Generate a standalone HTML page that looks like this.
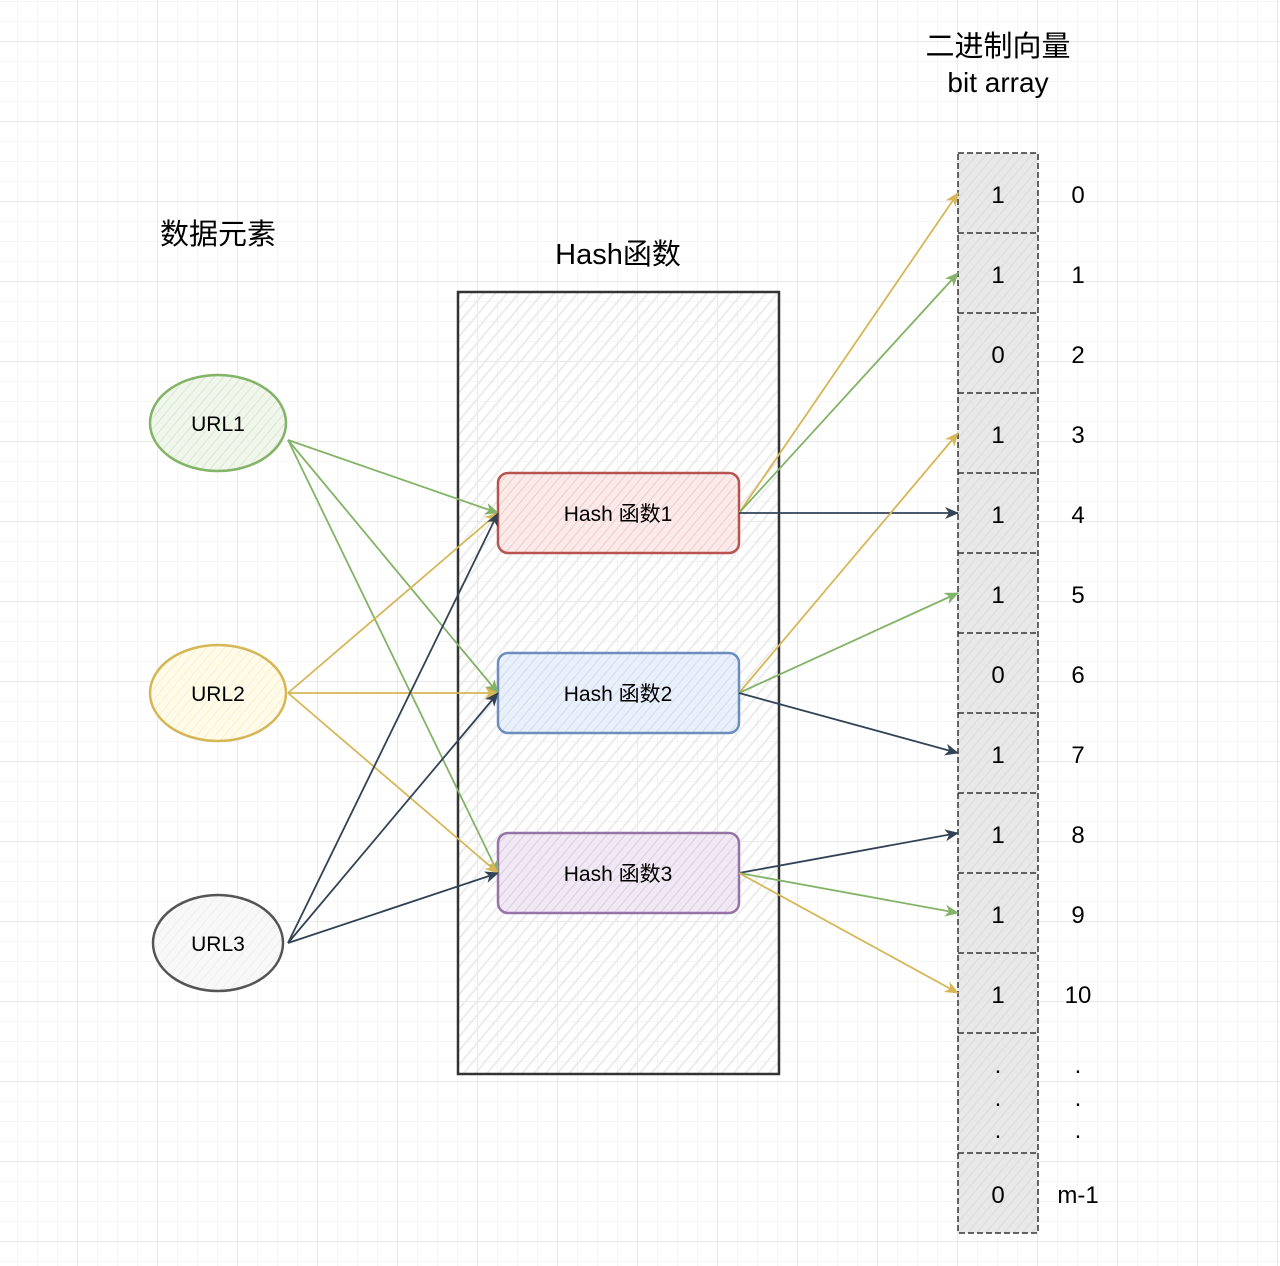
<!DOCTYPE html>
<html><head><meta charset="utf-8"><style>
html,body{margin:0;padding:0;background:#fff}
svg{display:block}
text{font-family:"Liberation Sans","Noto Sans CJK SC",sans-serif;fill:#000}
</style></head><body>
<svg width="1280" height="1266" viewBox="0 0 1280 1266" xmlns="http://www.w3.org/2000/svg">
<defs>
<pattern id="g" width="20" height="20" patternUnits="userSpaceOnUse" x="-2" y="2">
<path d="M20 0V20M0 20H20" stroke="#ececec" stroke-width="1" fill="none"/>
</pattern>
<pattern id="G" width="80" height="80" patternUnits="userSpaceOnUse" x="-2" y="42">
<path d="M80 0V80M0 80H80" stroke="#d4d4d4" stroke-width="1" fill="none"/>
</pattern>
<pattern id="h" width="9" height="9" patternUnits="userSpaceOnUse" patternTransform="rotate(40)">
<rect width="9" height="9" fill="none"/><line x1="0" y1="0" x2="0" y2="9" stroke="#ececec" stroke-width="4"/>
</pattern>
<pattern id="hg" width="7" height="7" patternUnits="userSpaceOnUse" patternTransform="rotate(40)">
<rect width="7" height="7" fill="#e8e8e8"/><line x1="0" y1="0" x2="0" y2="7" stroke="#dedede" stroke-width="3"/>
</pattern>
<pattern id="hr" width="7" height="7" patternUnits="userSpaceOnUse" patternTransform="rotate(40)"><rect width="7" height="7" fill="#fbeaea"/><line x1="0" y1="0" x2="0" y2="7" stroke="#f3c9c7" stroke-width="2"/></pattern>
<pattern id="hb" width="7" height="7" patternUnits="userSpaceOnUse" patternTransform="rotate(40)"><rect width="7" height="7" fill="#eaf0fa"/><line x1="0" y1="0" x2="0" y2="7" stroke="#cddcf2" stroke-width="2"/></pattern>
<pattern id="hp" width="7" height="7" patternUnits="userSpaceOnUse" patternTransform="rotate(40)"><rect width="7" height="7" fill="#f0e8f3"/><line x1="0" y1="0" x2="0" y2="7" stroke="#dccbe4" stroke-width="2"/></pattern>
<pattern id="hgr" width="7" height="7" patternUnits="userSpaceOnUse" patternTransform="rotate(40)"><rect width="7" height="7" fill="#f0f6ec"/><line x1="0" y1="0" x2="0" y2="7" stroke="#d7e8cd" stroke-width="2"/></pattern>
<pattern id="hy" width="7" height="7" patternUnits="userSpaceOnUse" patternTransform="rotate(40)"><rect width="7" height="7" fill="#fffbea"/><line x1="0" y1="0" x2="0" y2="7" stroke="#fbefc4" stroke-width="2"/></pattern>
<pattern id="hw" width="7" height="7" patternUnits="userSpaceOnUse" patternTransform="rotate(40)"><rect width="7" height="7" fill="#f8f8f8"/><line x1="0" y1="0" x2="0" y2="7" stroke="#eeeeee" stroke-width="2"/></pattern>
<marker id="ag" markerWidth="14" markerHeight="12" refX="13" refY="6" orient="auto" markerUnits="userSpaceOnUse"><path d="M0 0L14 6L0 12L4 6Z" fill="#82b366"/></marker>
<marker id="ay" markerWidth="14" markerHeight="12" refX="13" refY="6" orient="auto" markerUnits="userSpaceOnUse"><path d="M0 0L14 6L0 12L4 6Z" fill="#d6b656"/></marker>
<marker id="ad" markerWidth="14" markerHeight="12" refX="13" refY="6" orient="auto" markerUnits="userSpaceOnUse"><path d="M0 0L14 6L0 12L4 6Z" fill="#314354"/></marker>
</defs>
<rect width="1280" height="1266" fill="url(#g)"/>
<rect width="1280" height="1266" fill="url(#G)"/>

<rect x="458" y="292" width="321" height="782" fill="url(#h)" stroke="#333" stroke-width="2.5"/>

<g stroke="#333" stroke-width="1.5" stroke-dasharray="6 3">
<rect x="958" y="153" width="80" height="1080" fill="url(#hg)"/>
<path d="M958 233H1038M958 313H1038M958 393H1038M958 473H1038M958 553H1038M958 633H1038M958 713H1038M958 793H1038M958 873H1038M958 953H1038M958 1033H1038M958 1153H1038" fill="none"/>
</g>
<g font-size="24" text-anchor="middle">
<text x="998" y="203">1</text><text x="1078" y="203">0</text>
<text x="998" y="283">1</text><text x="1078" y="283">1</text>
<text x="998" y="363">0</text><text x="1078" y="363">2</text>
<text x="998" y="443">1</text><text x="1078" y="443">3</text>
<text x="998" y="523">1</text><text x="1078" y="523">4</text>
<text x="998" y="603">1</text><text x="1078" y="603">5</text>
<text x="998" y="683">0</text><text x="1078" y="683">6</text>
<text x="998" y="763">1</text><text x="1078" y="763">7</text>
<text x="998" y="843">1</text><text x="1078" y="843">8</text>
<text x="998" y="923">1</text><text x="1078" y="923">9</text>
<text x="998" y="1003">1</text><text x="1078" y="1003">10</text>
<text x="998" y="1073">.</text><text x="1078" y="1073">.</text>
<text x="998" y="1106">.</text><text x="1078" y="1106">.</text>
<text x="998" y="1138">.</text><text x="1078" y="1138">.</text>
<text x="998" y="1203">0</text><text x="1078" y="1203">m-1</text>
</g>

<text x="998" y="56" font-size="29" text-anchor="middle">二进制向量</text>
<text x="998" y="92" font-size="28" text-anchor="middle">bit array</text>
<text x="218" y="244" font-size="29" text-anchor="middle">数据元素</text>
<text x="618" y="264" font-size="29" text-anchor="middle">Hash函数</text>

<ellipse cx="218" cy="423" rx="68" ry="48" fill="url(#hgr)" stroke="#82b366" stroke-width="2.5"/>
<ellipse cx="218" cy="693" rx="68" ry="48" fill="url(#hy)" stroke="#d6b656" stroke-width="2.5"/>
<ellipse cx="218" cy="943" rx="65" ry="48" fill="url(#hw)" stroke="#555" stroke-width="2.5"/>
<g font-size="21" text-anchor="middle">
<text x="218" y="431">URL1</text><text x="218" y="701">URL2</text><text x="218" y="951">URL3</text>
</g>

<rect x="498" y="473" width="241" height="80" rx="10" fill="url(#hr)" stroke="#b85450" stroke-width="2.5"/>
<rect x="498" y="653" width="241" height="80" rx="10" fill="url(#hb)" stroke="#6c8ebf" stroke-width="2.5"/>
<rect x="498" y="833" width="241" height="80" rx="10" fill="url(#hp)" stroke="#9673a6" stroke-width="2.5"/>
<g font-size="21" text-anchor="middle">
<text x="618" y="521">Hash 函数1</text><text x="618" y="701">Hash 函数2</text><text x="618" y="881">Hash 函数3</text>
</g>

<g fill="none" stroke-width="1.8">
<path d="M288 440L498 513" stroke="#82b366" marker-end="url(#ag)"/>
<path d="M288 440L498 693" stroke="#82b366" marker-end="url(#ag)"/>
<path d="M288 440L498 873" stroke="#82b366" marker-end="url(#ag)"/>
<path d="M288 693L498 513" stroke="#d6b656" marker-end="url(#ay)"/>
<path d="M288 693L498 693" stroke="#d6b656" marker-end="url(#ay)"/>
<path d="M288 693L498 873" stroke="#d6b656" marker-end="url(#ay)"/>
<path d="M288 943L498 513" stroke="#314354" marker-end="url(#ad)"/>
<path d="M288 943L498 693" stroke="#314354" marker-end="url(#ad)"/>
<path d="M288 943L498 873" stroke="#314354" marker-end="url(#ad)"/>

<path d="M739 513L958 193" stroke="#d6b656" marker-end="url(#ay)"/>
<path d="M739 513L958 273" stroke="#82b366" marker-end="url(#ag)"/>
<path d="M739 513L958 513" stroke="#314354" marker-end="url(#ad)"/>
<path d="M739 693L958 433" stroke="#d6b656" marker-end="url(#ay)"/>
<path d="M739 693L958 593" stroke="#82b366" marker-end="url(#ag)"/>
<path d="M739 693L958 753" stroke="#314354" marker-end="url(#ad)"/>
<path d="M739 873L958 833" stroke="#314354" marker-end="url(#ad)"/>
<path d="M739 873L958 913" stroke="#82b366" marker-end="url(#ag)"/>
<path d="M739 873L958 993" stroke="#d6b656" marker-end="url(#ay)"/>
</g>
</svg>
</body></html>
